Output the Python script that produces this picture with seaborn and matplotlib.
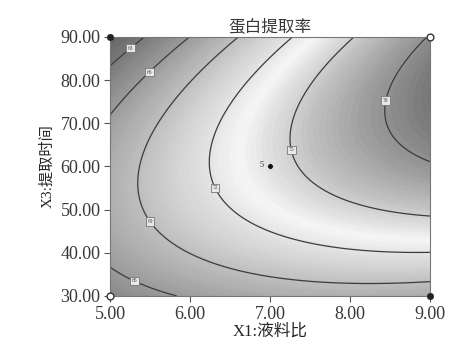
import numpy as np
import pandas as pd
import matplotlib
matplotlib.use("Agg")
import matplotlib.pyplot as plt
import seaborn as sns
from matplotlib.colors import LinearSegmentedColormap, Normalize

# quadratic response-surface model, coded factors A=(X1-7)/2, B=(X3-60)/30
# terms: intercept, A, B, AB, A^2, B^2
model_terms = ["b0", "A", "B", "AB", "A2", "B2"]
model_coef = [74.15, 5.12, 1.72, 3.66, -1.46, -5.08]

contour_levels = [63, 66, 69, 72, 75, 78]

# design points shown on the plot
design_x1 = [5.0, 9.0, 5.0, 9.0]
design_x3 = [90.0, 30.0, 30.0, 90.0]
design_kind = ["filled", "filled", "open", "open"]
center_x1 = [7.0]
center_x3 = [60.0]
center_runs = ["5"]

x_ticks = [5.0, 6.0, 7.0, 8.0, 9.0]
y_ticks = [30.0, 40.0, 50.0, 60.0, 70.0, 80.0, 90.0]

sns.set_theme(style="ticks")
plt.rcParams["font.family"] = ["Liberation Serif", "Noto Sans CJK SC"]
plt.rcParams["text.color"] = "#383838"

fig = plt.figure(figsize=(4.55, 3.51), dpi=100)
ax = fig.add_axes([0.242, 0.157, 0.703, 0.738])

x1 = np.linspace(5, 9, 240)
x3 = np.linspace(30, 90, 240)
X1, X3 = np.meshgrid(x1, x3)
A = (X1 - 7) / 2
B = (X3 - 60) / 30
b0, bA, bB, bAB, bA2, bB2 = model_coef
Z = b0 + bA * A + bB * B + bAB * A * B + bA2 * A * A + bB2 * B * B

# grey rendering of the Design-Expert colour ramp
stops = [(60.0, "#5e5e5e"), (63.0, "#787878"), (66.0, "#9a9a9a"), (69.0, "#bebebe"),
         (72.0, "#e4e4e4"), (73.2, "#f6f6f6"), (75.0, "#d0d0d0"), (78.0, "#929292"),
         (79.5, "#727272")]
vmin, vmax = stops[0][0], stops[-1][0]
cmap = LinearSegmentedColormap.from_list(
    "dx_grey", [((v - vmin) / (vmax - vmin), c) for v, c in stops])
ax.contourf(X1, X3, Z, levels=120, cmap=cmap, norm=Normalize(vmin, vmax))
cs = ax.contour(X1, X3, Z, levels=contour_levels, colors="#3c3c3c", linewidths=0.9)

label_spots = [(5.25, 87.5), (5.48, 82), (5.31, 33.8), (5.5, 47.2), (6.31, 55),
               (7.25, 63.8), (8.41, 75.4)]
labels = ax.clabel(cs, fmt="%d", fontsize=4, inline=False, manual=label_spots, colors="#444444")
for t in labels:
    t.set_rotation(0)
    t.set_bbox(dict(boxstyle="square,pad=0.3", fc="#e8e8e8", ec="#777777", lw=0.6))

pts = pd.DataFrame({"x1": design_x1, "x3": design_x3, "kind": design_kind})
filled = pts[pts["kind"] == "filled"]
hollow = pts[pts["kind"] == "open"]
sns.scatterplot(data=filled, x="x1", y="x3", ax=ax, color="#222222", s=22,
                edgecolor="#222222", zorder=6, clip_on=False, legend=False)
sns.scatterplot(data=hollow, x="x1", y="x3", ax=ax, color="white", s=24,
                edgecolor="#333333", linewidth=1.0, zorder=6, clip_on=False, legend=False)
sns.scatterplot(x=center_x1, y=center_x3, ax=ax, color="#111111", s=16, zorder=6, legend=False)
ax.annotate(center_runs[0], (center_x1[0], center_x3[0]), xytext=(-6, 1),
            textcoords="offset points", fontsize=6, ha="center", va="center")

ax.set_xlim(5, 9)
ax.set_ylim(30, 90)
ax.set_xticks(x_ticks)
ax.set_yticks(y_ticks)
ax.set_xticklabels([f"{v:.2f}" for v in x_ticks])
ax.set_yticklabels([f"{v:.2f}" for v in y_ticks])
ax.tick_params(labelsize=13, colors="#555555", labelcolor="#383838", length=4, width=0.8, pad=3)
for s in ax.spines.values():
    s.set_color("#777777")
    s.set_linewidth(0.8)

ax.set_title("蛋白提取率", fontsize=12, pad=4)
ax.set_xlabel("X1:液料比", fontsize=12, labelpad=1)
ax.set_ylabel("X3:提取时间", fontsize=11, labelpad=4)

fig.savefig("out.png", dpi=100)
